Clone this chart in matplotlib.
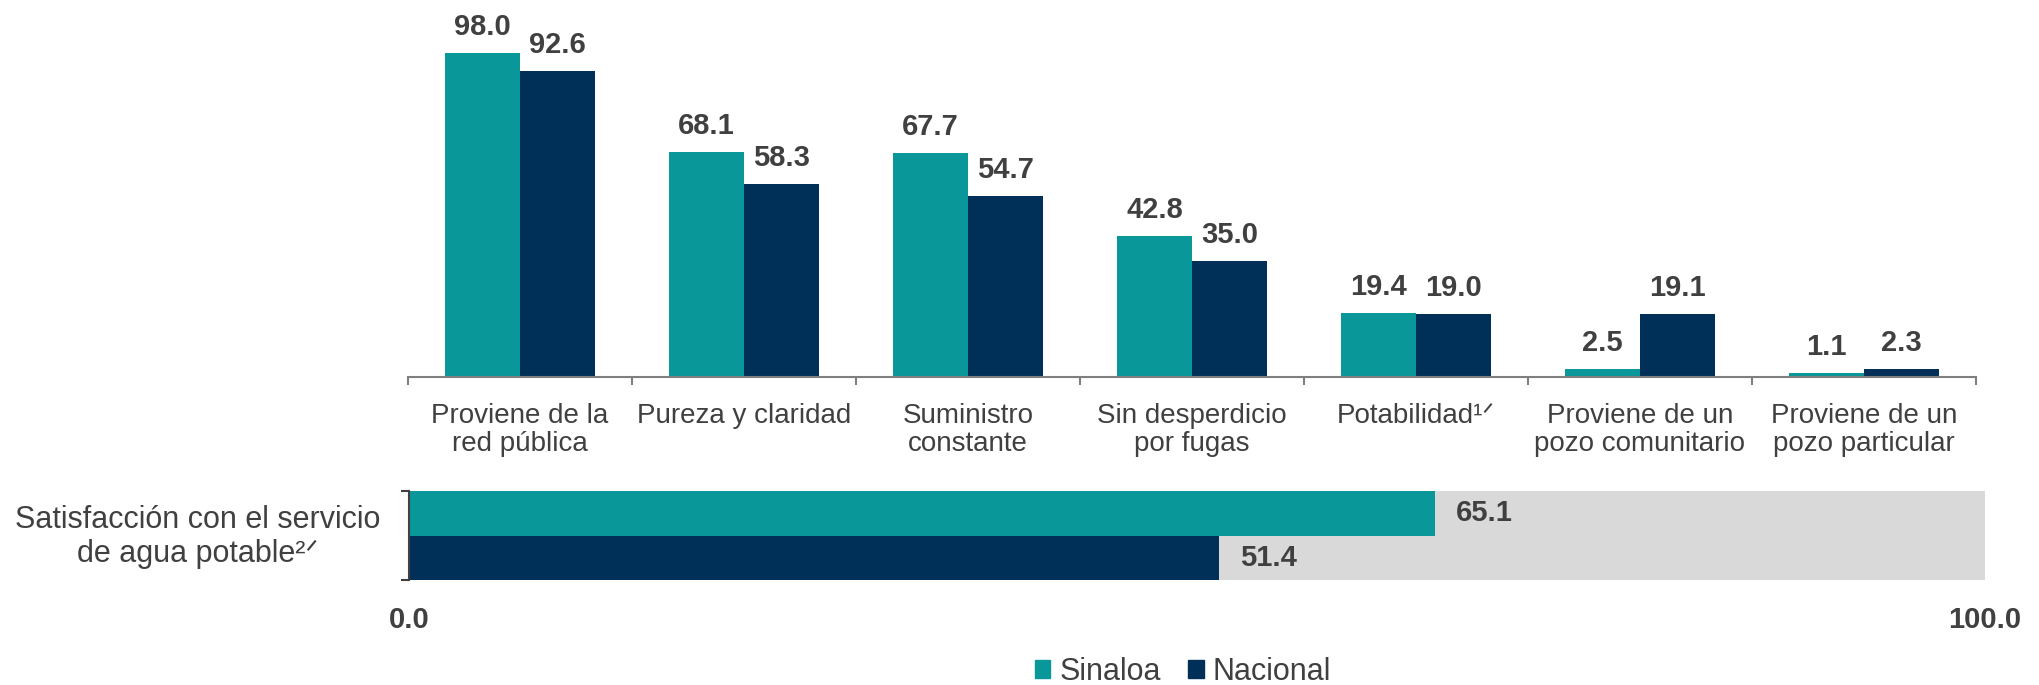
import numpy as np
import matplotlib
matplotlib.use("Agg")
import matplotlib.pyplot as plt
from matplotlib.patches import Patch

plt.rcParams['font.family'] = ['Liberation Sans', 'DejaVu Sans']

# Data
categorias = ["Proviene de la\nred pública", "Pureza y claridad", "Suministro\nconstante",
              "Sin desperdicio\npor fugas", "Potabilidad¹ᐟ", "Proviene de un\npozo comunitario",
              "Proviene de un\npozo particular"]
sinaloa = [98.0, 68.1, 67.7, 42.8, 19.4, 2.5, 1.1]
nacional = [92.6, 58.3, 54.7, 35.0, 19.0, 19.1, 2.3]

satisf_label = "Satisfacción con el servicio\nde agua potable²ᐟ"
satisf_sinaloa = 65.1
satisf_nacional = 51.4
escala_max = 100.0

series = ["Sinaloa", "Nacional"]

teal = "#0A979A"
navy = "#003057"
gris = "#D9D9D9"
texto = "#404040"
linea = "#7F7F7F"

fig = plt.figure(figsize=(20.39, 6.85), dpi=100)

# top chart: grouped columns
ax = fig.add_axes([408/2039, 1 - 377/685, (1976 - 408)/2039, 347/685])
x = np.arange(len(categorias))
w = 0.335
b1 = ax.bar(x - w/2, sinaloa, w, color=teal)
b2 = ax.bar(x + w/2, nacional, w, color=navy)
for bars, vals in ((b1, sinaloa), (b2, nacional)):
    for r, v in zip(bars, vals):
        ax.annotate(f"{v:.1f}", (r.get_x() + r.get_width()/2, v), xytext=(0, 13),
                    textcoords="offset points", ha="center", va="baseline",
                    fontsize=21, fontweight="bold", color=texto, annotation_clip=False)
ax.set_xlim(-0.5, len(categorias) - 0.5)
ax.set_ylim(0, 105)
for s in ("left", "right", "top"):
    ax.spines[s].set_visible(False)
ax.spines["bottom"].set_color(linea)
ax.spines["bottom"].set_linewidth(1.5)
ax.set_yticks([])
ax.set_xticks(x)
ax.set_xticklabels(categorias, fontsize=20, color=texto, linespacing=1.08)
ax.set_xticks(np.arange(-0.5, len(categorias), 1), minor=True)
ax.tick_params(axis="x", which="major", length=0, pad=19)
ax.tick_params(axis="x", which="minor", length=6, width=1.5, color=linea)

# bottom chart: satisfaction bars on a 0-100 scale
ax2 = fig.add_axes([409/2039, 1 - 580/685, (1985 - 409)/2039, 89/685])
ax2.barh(1, escala_max, height=2, color=gris)
ax2.barh(1.5, satisf_sinaloa, height=1, color=teal)
ax2.barh(0.5, satisf_nacional, height=1, color=navy)
for yv, v in ((1.5, satisf_sinaloa), (0.5, satisf_nacional)):
    ax2.annotate(f"{v:.1f}", (v, yv), xytext=(15, 0), textcoords="offset points",
                 ha="left", va="center", fontsize=21, fontweight="bold", color=texto)
ax2.set_xlim(0, escala_max)
ax2.set_ylim(0, 2)
for s in ("right", "top", "bottom"):
    ax2.spines[s].set_visible(False)
ax2.spines["left"].set_color("#404040")
ax2.spines["left"].set_linewidth(1.5)
ax2.set_yticks([0, 2])
ax2.set_yticklabels([])
ax2.tick_params(axis="y", length=6, width=1.5, color="#404040")
ax2.set_xticks([0, escala_max])
ax2.set_xticklabels([f"{0:.1f}", f"{escala_max:.1f}"], fontsize=21, fontweight="bold", color=texto)
ax2.tick_params(axis="x", length=0, pad=19)

fig.text(198/2039, 1 - 537/685, satisf_label, ha="center", va="center",
         fontsize=22, color=texto, linespacing=1.2)

handles = [Patch(color=teal), Patch(color=navy)]
fig.legend(handles, series, loc="center", bbox_to_anchor=(1183/2039, 1 - 672/685),
           ncol=2, frameon=False, fontsize=22, handlelength=0.5, handleheight=0.5,
           handletextpad=0.3, columnspacing=0.9, labelcolor=texto, borderpad=0)

fig.savefig("out.png", dpi=100)
